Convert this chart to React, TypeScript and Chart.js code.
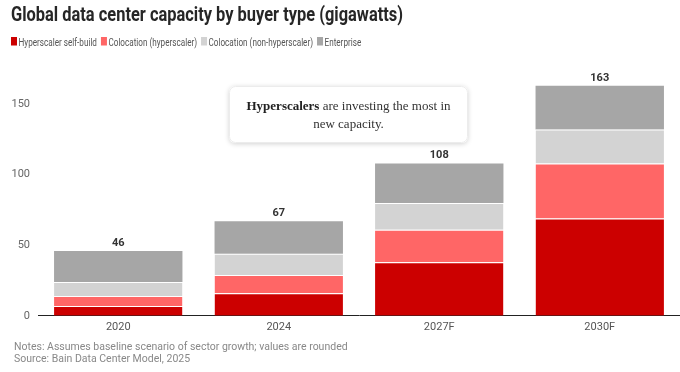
import React, { useEffect, useRef } from 'react';
import { Chart, registerables } from 'chart.js';

Chart.register(...registerables);

const TITLE = 'Global data center capacity by buyer type (gigawatts)';
const categories = ['2020', '2024', '2027F', '2030F'];
const hyperscalerSelfBuild = [7, 16, 38, 69];
const colocationHyperscaler = [7, 13, 23, 39];
const colocationNonHyperscaler = [10, 15, 19, 24];
const enterprise = [22, 23, 28, 31];
const seriesLabels = [
  'Hyperscaler self-build',
  'Colocation (hyperscaler)',
  'Colocation (non-hyperscaler)',
  'Enterprise',
];
const seriesColors = ['#cc0000', '#ff6666', '#d3d3d3', '#a6a6a6'];
const yTickValues = [0, 50, 100, 150];
const notes = [
  'Notes: Assumes baseline scenario of sector growth; values are rounded',
  'Source: Bain Data Center Model, 2025',
];
const calloutBold = 'Hyperscalers';
const calloutRest = ' are investing the most in';
const calloutLine2 = 'new capacity.';

const SANS = 'Roboto, "Liberation Sans", sans-serif';
const SERIF = '"Liberation Serif", "DejaVu Serif", serif';

function narrowText(ctx: CanvasRenderingContext2D, text: string, x: number, y: number, sx: number) {
  ctx.save();
  ctx.translate(x, y);
  ctx.scale(sx, 1);
  ctx.fillText(text, 0, 0);
  ctx.restore();
  return ctx.measureText(text).width * sx;
}

const decorPlugin = {
  id: 'decor',
  afterDraw(chart: any) {
    const ctx = chart.ctx as CanvasRenderingContext2D;
    ctx.save();
    ctx.textAlign = 'left';
    ctx.textBaseline = 'alphabetic';

    // Title
    ctx.font = `bold 20px ${SANS}`;
    ctx.fillStyle = '#262626';
    const tw = ctx.measureText(TITLE).width;
    narrowText(ctx, TITLE, 11, 21, 392 / tw);

    // Legend
    ctx.font = `11px ${SANS}`;
    const lsx = 0.74;
    let lx = 11;
    chart.data.datasets.forEach((ds: any) => {
      ctx.fillStyle = ds.backgroundColor;
      ctx.fillRect(lx, 37, 6, 8.5);
      lx += 7.5;
      ctx.fillStyle = '#555';
      lx += narrowText(ctx, ds.label, lx, 45.5, lsx) + 4;
    });

    // Totals above bars
    const yScale = chart.scales.y;
    const lastMeta = chart.getDatasetMeta(chart.data.datasets.length - 1);
    ctx.font = `bold 11px ${SANS}`;
    ctx.fillStyle = '#333';
    ctx.textAlign = 'center';
    ctx.textBaseline = 'middle';
    categories.forEach((_, i) => {
      let total = 0;
      chart.data.datasets.forEach((ds: any) => (total += ds.data[i]));
      const el = lastMeta.data[i];
      const y = yScale.getPixelForValue(total);
      ctx.fillText(String(total), el.x, y - 8);
    });

    // Callout box
    const bx = 229, by = 86, bw = 239, bh = 57;
    ctx.save();
    ctx.shadowColor = 'rgba(0,0,0,0.18)';
    ctx.shadowBlur = 5;
    ctx.shadowOffsetY = 1;
    ctx.fillStyle = '#fff';
    ctx.beginPath();
    (ctx as any).roundRect(bx, by, bw, bh, 6);
    ctx.fill();
    ctx.restore();
    ctx.strokeStyle = '#ececec';
    ctx.lineWidth = 1;
    ctx.beginPath();
    (ctx as any).roundRect(bx + 0.5, by + 0.5, bw - 1, bh - 1, 6);
    ctx.stroke();

    const cx = bx + bw / 2;
    ctx.textAlign = 'left';
    ctx.textBaseline = 'alphabetic';
    ctx.font = `bold 13px ${SERIF}`;
    const wb = ctx.measureText(calloutBold).width;
    ctx.font = `13px ${SERIF}`;
    const wr = ctx.measureText(calloutRest).width;
    const sx = cx - (wb + wr) / 2;
    ctx.fillStyle = '#222';
    ctx.font = `bold 13px ${SERIF}`;
    ctx.fillText(calloutBold, sx, 110);
    ctx.font = `13px ${SERIF}`;
    ctx.fillStyle = '#333';
    ctx.fillText(calloutRest, sx + wb, 110);
    ctx.textAlign = 'center';
    ctx.fillText(calloutLine2, cx, 128);

    // Notes
    ctx.textAlign = 'left';
    ctx.font = `10.5px ${SANS}`;
    ctx.fillStyle = '#888';
    ctx.fillText(notes[0], 14, 350);
    ctx.fillText(notes[1], 14, 362);

    ctx.restore();
  },
};

export default function App() {
  const ref = useRef<HTMLCanvasElement | null>(null);

  useEffect(() => {
    document.body.style.margin = '0';
    if (!ref.current) return;
    const sep = { top: 1, right: 0, bottom: 0, left: 0 };
    const chart = new Chart(ref.current, {
      type: 'bar',
      data: {
        labels: categories,
        datasets: [
          { label: seriesLabels[0], data: hyperscalerSelfBuild, backgroundColor: seriesColors[0], borderColor: '#fff', borderWidth: sep },
          { label: seriesLabels[1], data: colocationHyperscaler, backgroundColor: seriesColors[1], borderColor: '#fff', borderWidth: sep },
          { label: seriesLabels[2], data: colocationNonHyperscaler, backgroundColor: seriesColors[2], borderColor: '#fff', borderWidth: sep },
          { label: seriesLabels[3], data: enterprise, backgroundColor: seriesColors[3], borderWidth: 0 },
        ],
      },
      options: {
        responsive: false,
        animation: false,
        layout: { padding: { top: 76, left: 11, right: 0, bottom: 33 } },
        categoryPercentage: 0.8,
        barPercentage: 1,
        plugins: {
          legend: { display: false },
          title: { display: false },
          tooltip: { enabled: false },
        },
        scales: {
          x: {
            stacked: true,
            grid: { display: false, drawTicks: false },
            border: { display: true, color: '#222', width: 1 },
            ticks: { color: '#555', font: { family: SANS, size: 11 }, padding: 5 },
          },
          y: {
            stacked: true,
            min: 0,
            max: 170,
            grid: { display: false, drawTicks: false },
            border: { display: false },
            afterBuildTicks: (scale: any) => {
              scale.ticks = yTickValues.map((v) => ({ value: v }));
            },
            afterFit: (scale: any) => {
              scale.width = 27;
            },
            ticks: { color: '#666', font: { family: SANS, size: 11 }, padding: 8, stepSize: 50 },
          },
        },
      } as any,
      plugins: [decorPlugin],
    });
    return () => chart.destroy();
  }, []);

  return (
    <div style={{ width: 680, height: 372, background: '#fff', overflow: 'hidden' }}>
      <canvas ref={ref} width={680} height={372} style={{ display: 'block' }} />
    </div>
  );
}
